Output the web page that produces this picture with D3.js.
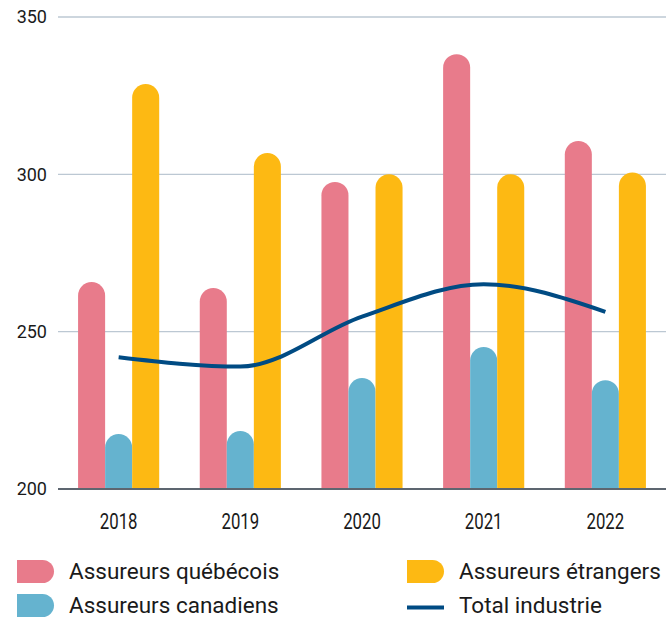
<!DOCTYPE html>
<html>
<head>
<meta charset="utf-8">
<script src="https://cdn.jsdelivr.net/npm/d3@7/dist/d3.min.js"></script>
<style>
  html, body { margin: 0; padding: 0; background: #ffffff; }
  svg { display: block; }
</style>
</head>
<body>
<svg id="chart" width="670" height="623"></svg>
<script>
// Années
const years = ["2018", "2019", "2020", "2021", "2022"];

// Séries (barres)
const seriesNames = ["Assureurs québécois", "Assureurs canadiens", "Assureurs étrangers"];
const quebecois = [265.8, 263.9, 297.6, 338.2, 310.6];
const canadiens = [217.5, 218.4, 235.3, 245.1, 234.6];
const etrangers = [328.7, 306.8, 300.0, 300.0, 300.6];

// Série (ligne)
const lineName = "Total industrie";
const totalIndustrie = [241.9, 238.9, 254.8, 265.1, 256.3];

// Axe vertical
const yTicks = [200, 250, 300, 350];

const colors = ["#e87b8b", "#65b3cf", "#fdb913"];
const lineColor = "#004b83";

const svg = d3.select("#chart");
const plotLeft = 58, plotRight = 666, plotTop = 17, plotBottom = 489;

const x = d3.scaleBand().domain(years).range([plotLeft, plotRight])
  .paddingInner(1 / 3).paddingOuter(0.165);
const xs = d3.scaleBand().domain(seriesNames).range([0, x.bandwidth()]);
const y = d3.scaleLinear().domain([200, 350]).range([plotBottom, plotTop]);

// Grille horizontale
svg.append("g")
  .selectAll("line")
  .data(yTicks.filter(t => t !== 200))
  .join("line")
  .attr("x1", plotLeft).attr("x2", plotRight)
  .attr("y1", d => y(d)).attr("y2", d => y(d))
  .attr("stroke", "#bcc8d3").attr("stroke-width", 1.3);

// Étiquettes de l'axe vertical
svg.append("g")
  .selectAll("text")
  .data(yTicks)
  .join("text")
  .attr("x", 47)
  .attr("y", d => y(d))
  .attr("dy", "0.35em")
  .attr("text-anchor", "end")
  .attr("font-family", "Roboto, sans-serif")
  .attr("font-size", 18)
  .attr("fill", "#1a1a1a")
  .text(d => d);

// Barres à sommet arrondi
const barPath = (x0, w, yTop, y0) => {
  const r = w / 2;
  return `M${x0},${y0}V${yTop + r}A${r},${r} 0 0 1 ${x0 + w},${yTop + r}V${y0}Z`;
};
const seriesData = [quebecois, canadiens, etrangers];
const bars = [];
years.forEach((yr, i) => {
  seriesNames.forEach((s, j) => {
    bars.push({ year: yr, series: s, value: seriesData[j][i], color: colors[j] });
  });
});
svg.append("g")
  .selectAll("path")
  .data(bars)
  .join("path")
  .attr("d", d => barPath(x(d.year) + xs(d.series), xs.bandwidth(), y(d.value), y(200)))
  .attr("fill", d => d.color);

// Ligne de base
svg.append("line")
  .attr("x1", plotLeft).attr("x2", plotRight)
  .attr("y1", y(200)).attr("y2", y(200))
  .attr("stroke", "#5d6670").attr("stroke-width", 2);

// Ligne Total industrie
const line = d3.line()
  .x((d, i) => x(years[i]) + x.bandwidth() / 2)
  .y(d => y(d))
  .curve(d3.curveMonotoneX);
svg.append("path")
  .datum(totalIndustrie)
  .attr("d", line)
  .attr("fill", "none")
  .attr("stroke", lineColor)
  .attr("stroke-width", 4);

// Étiquettes de l'axe horizontal (police étroite)
svg.append("g")
  .selectAll("text")
  .data(years)
  .join("text")
  .attr("transform", d => `translate(${x(d) + x.bandwidth() / 2},528.5) scale(0.78,1)`)
  .attr("text-anchor", "middle")
  .attr("font-family", "Roboto, sans-serif")
  .attr("font-size", 21.5)
  .attr("fill", "#1a1a1a")
  .text(d => d);

// Légende
const legendItems = [
  { name: seriesNames[0], color: colors[0], type: "bar", lx: 17, ly: 560 },
  { name: seriesNames[1], color: colors[1], type: "bar", lx: 17, ly: 594 },
  { name: seriesNames[2], color: colors[2], type: "bar", lx: 407, ly: 560 },
  { name: lineName, color: lineColor, type: "line", lx: 407, ly: 594 }
];
const lg = svg.append("g").selectAll("g").data(legendItems).join("g")
  .attr("transform", d => `translate(${d.lx},${d.ly})`);
lg.filter(d => d.type === "bar").append("path")
  .attr("d", "M0,0H25.5A11.5,11.5 0 0 1 25.5,23H0Z")
  .attr("fill", d => d.color);
lg.filter(d => d.type === "line").append("line")
  .attr("x1", 0).attr("x2", 37).attr("y1", 13.5).attr("y2", 13.5)
  .attr("stroke", d => d.color).attr("stroke-width", 4);
lg.append("text")
  .attr("x", 52)
  .attr("y", 19)
  .attr("font-family", "Roboto, sans-serif")
  .attr("font-size", 22.5)
  .attr("fill", "#1a1a1a")
  .text(d => d.name);
</script>
</body>
</html>
